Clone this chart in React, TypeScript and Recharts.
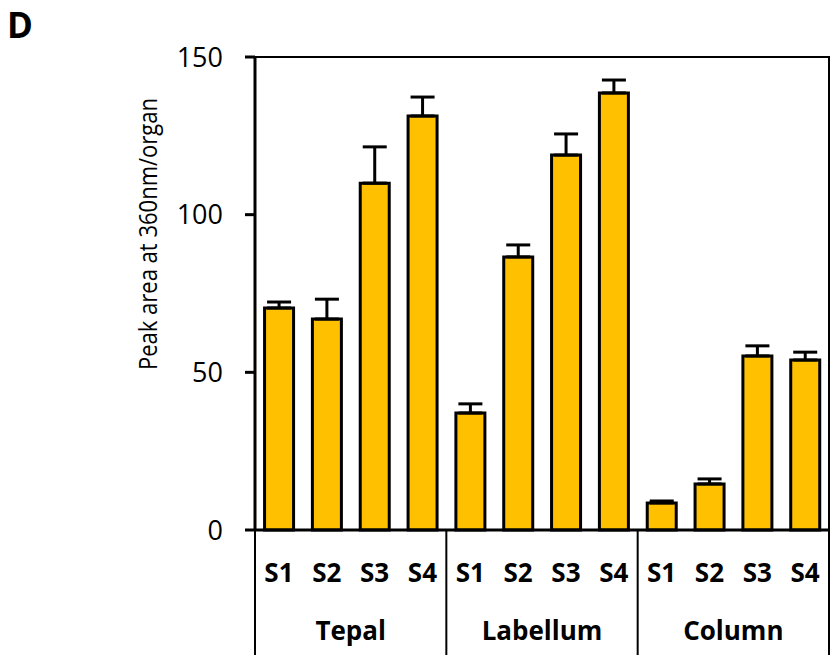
import { BarChart, Bar, XAxis, YAxis, ErrorBar, ReferenceArea } from "recharts"

const stages = ["S1", "S2", "S3", "S4"]
const organs = ["Tepal", "Labellum", "Column"]
const means = [70.4, 66.9, 110, 131.3, 37.1, 86.6, 118.9, 138.6, 8.6, 14.6, 55.2, 53.9]
const errors = [1.9, 6.3, 11.5, 6, 2.9, 3.8, 6.7, 4.1, 0.6, 1.6, 3.2, 2.5]
const yTicks = [0, 50, 100, 150]

const data = means.map((m, i) => ({
  key: `${organs[Math.floor(i / 4)]}-${stages[i % 4]}`,
  stage: stages[i % 4],
  organ: organs[Math.floor(i / 4)],
  value: m,
  err: [0, errors[i]],
}))

const W = 831
const H = 655
const LEFT = 255
const RIGHT = 2
const TOP = 57
const BOTTOM = 530
const band = (W - LEFT - RIGHT) / data.length
const font = "'Open Sans', Lato, sans-serif"

function CategoryTick(props: any) {
  const { x, index } = props
  const d = data[index]
  if (!d) return null
  return (
    <g>
      <text x={x} y={582} textAnchor="middle" fontFamily={font} fontWeight={700} fontSize={26} fill="#000">
        {d.stage}
      </text>
      {index % 4 === 0 && (
        <line x1={x - band / 2} x2={x - band / 2} y1={BOTTOM} y2={H} stroke="#000" strokeWidth={2} />
      )}
      {index === data.length - 1 && (
        <line x1={x + band / 2} x2={x + band / 2} y1={BOTTOM} y2={H} stroke="#000" strokeWidth={2} />
      )}
      {index % 4 === 1 && (
        <text x={x + band / 2} y={640} textAnchor="middle" fontFamily={font} fontWeight={700} fontSize={26} fill="#000">
          {d.organ}
        </text>
      )}
    </g>
  )
}

export default function App() {
  return (
    <div style={{ position: "absolute", left: 0, top: 0, width: W, height: H, background: "#fff" }}>
      <BarChart
        width={W}
        height={H}
        data={data}
        margin={{ top: TOP, right: RIGHT, left: LEFT - 90, bottom: 0 }}
        barCategoryGap="20%"
      >
        <XAxis
          dataKey="key"
          height={H - BOTTOM}
          interval={0}
          tickLine={false}
          axisLine={{ stroke: "#000", strokeWidth: 3 }}
          tick={<CategoryTick />}
        />
        <YAxis
          width={90}
          domain={[0, 150]}
          ticks={yTicks}
          tickSize={10}
          tickMargin={22}
          tickLine={{ stroke: "#000", strokeWidth: 3 }}
          axisLine={{ stroke: "#000", strokeWidth: 3 }}
          tick={{ fill: "#000", fontSize: 27, fontFamily: font }}
          label={{
            content: () => (
              <text
                x={157}
                y={234}
                transform="rotate(-90 157 234)"
                textAnchor="middle"
                fontFamily={font}
                fontSize={26}
                textLength={272}
                lengthAdjust="spacingAndGlyphs"
                fill="#000"
              >
                Peak area at 360nm/organ
              </text>
            ),
          }}
        />
        <ReferenceArea y1={0} y2={150} fill="none" stroke="#000" strokeWidth={2} ifOverflow="visible" />
        <Bar dataKey="value" fill="#FFC000" stroke="#000" strokeWidth={3} isAnimationActive={false}>
          <ErrorBar dataKey="err" direction="y" width={12} stroke="#000" strokeWidth={3} />
        </Bar>
      </BarChart>
      <svg width={60} height={50} style={{ position: "absolute", left: 0, top: 0 }}>
        <text x={7} y={37.5} fontFamily={font} fontWeight={700} fontSize={35} fill="#000">
          D
        </text>
      </svg>
    </div>
  )
}
